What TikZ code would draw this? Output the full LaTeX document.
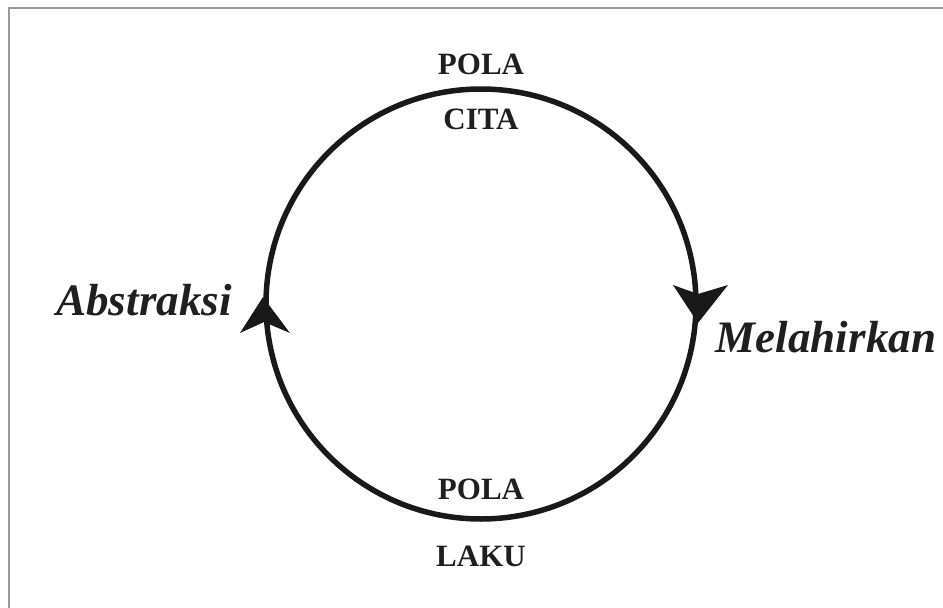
\documentclass[tikz,border=0pt]{standalone}
\usepackage{fontspec}
\setmainfont{Liberation Serif}
\begin{document}
\begin{tikzpicture}[x=1pt,y=-1pt,
  lbl/.style={inner sep=0pt,anchor=base,text=black!88,font=\fontsize{31}{31}\selectfont\bfseries},
  side/.style={inner sep=0pt,anchor=base,text=black!88,font=\fontsize{45}{45}\selectfont\bfseries\itshape},
  ring/.style={line width=5.5pt,draw=black!90},
  head/.style={fill=black!90,draw=none},
  frame/.style={draw=black!40,line width=2pt}]
\useasboundingbox (0,0) rectangle (943,608);
\fill[white] (0,0) rectangle (943,608);
% partial frame
\draw[frame] (9,608) -- (9,8) -- (943,8);
% cycle
\coordinate (c) at (481,304);
\draw[ring] (c) circle[radius=215];
% arrowheads
\fill[head] (263,297) -- (290,333) -- (264,322) -- (240,333) -- cycle;
\fill[head] (698,323) -- (673,285) -- (698,294) -- (728,285) -- cycle;
% labels
\node[lbl] (pola1) at (481,74) {POLA};
\node[lbl] (cita) at (481,129) {CITA};
\node[lbl] (pola2) at (481,499) {POLA};
\node[lbl] (laku) at (481,566) {LAKU};
\node[side] (abs) at (144,315) {Abstraksi};
\node[side] (mel) at (826,352) {Melahirkan};
\end{tikzpicture}
\end{document}
